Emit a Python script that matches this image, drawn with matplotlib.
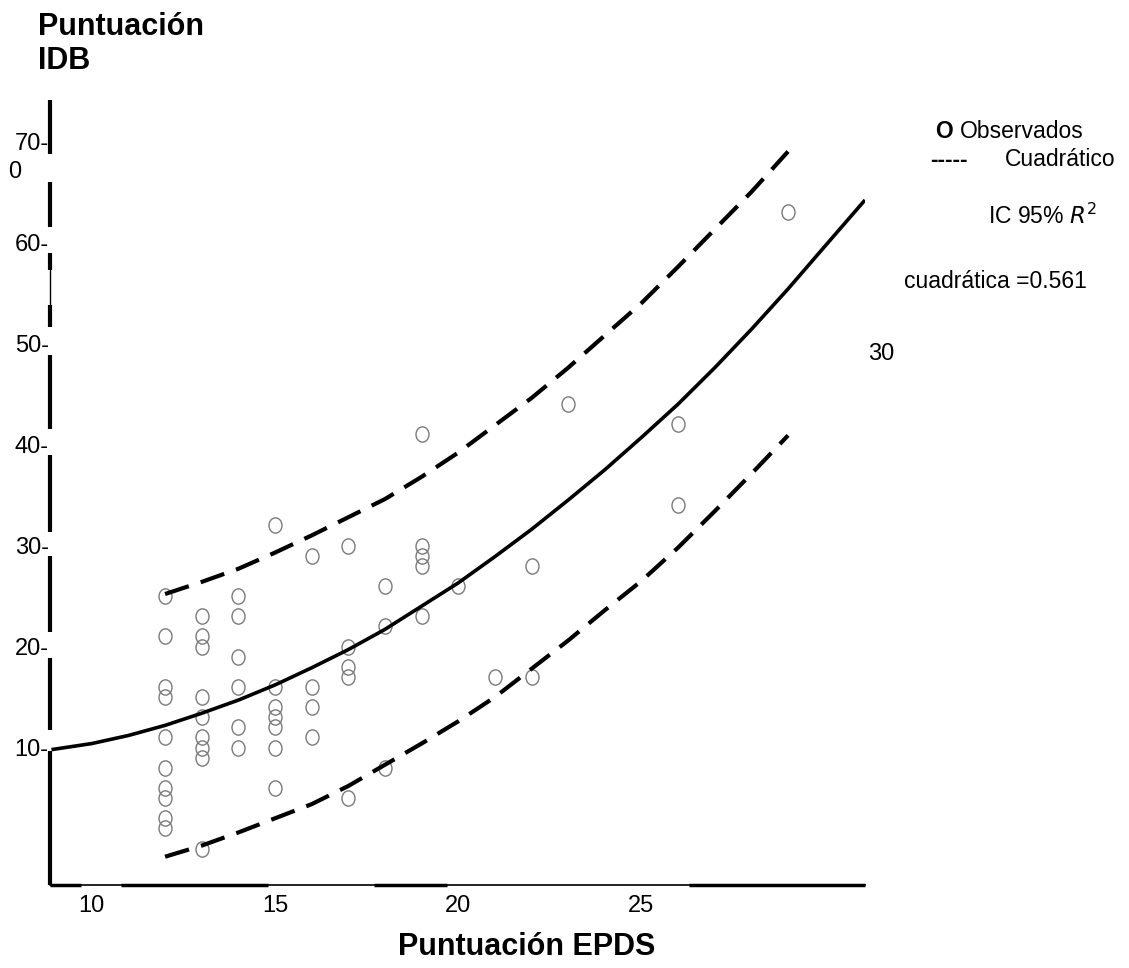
import matplotlib.pyplot as plt
from matplotlib.path import Path
from matplotlib.transforms import Affine2D

plt.rcParams["font.family"] = ["Liberation Sans", "DejaVu Sans"]

# observed points (EPDS score, IDB score)
obs_epds = [12, 12, 12, 12, 12, 12, 12, 12, 12, 12,
            13, 13, 13, 13, 13, 13, 13, 13, 13,
            14, 14, 14, 14, 14, 14,
            15, 15, 15, 15, 15, 15, 15,
            16, 16, 16, 16,
            17, 17, 17, 17, 17,
            18, 18, 18,
            19, 19, 19, 19, 19,
            20, 21, 22, 22, 23, 26, 26, 29]
obs_idb = [25, 21, 16, 15, 11, 8, 6, 5, 3, 2,
           23, 21, 20, 15, 13, 11, 10, 9, 0,
           25, 23, 19, 16, 12, 10,
           32, 16, 14, 13, 12, 10, 6,
           29, 16, 14, 11,
           30, 20, 18, 17, 5,
           26, 22, 8,
           41, 30, 29, 28, 23,
           26, 17, 28, 17, 44, 42, 34, 63]

# quadratic fit
fit_x = [8.9, 10, 11, 12, 13, 14, 15, 16, 17, 18, 19, 20, 21, 22, 23, 24,
         25, 26, 27, 28, 29, 30, 31.1]
fit_y = [9.8, 10.4, 11.2, 12.2, 13.4, 14.7, 16.2, 17.9, 19.7, 21.7, 24.0,
         26.3, 28.9, 31.6, 34.5, 37.5, 40.7, 44.0, 47.6, 51.4, 55.4, 59.6, 64.2]

# 95% confidence band
band_x = [12, 13, 14, 15, 16, 17, 18, 19, 20, 21, 22, 23, 24, 25, 26, 27, 28, 29]
upper_y = [25.2, 26.4, 27.7, 29.3, 31.0, 32.8, 34.6, 36.8, 39.2, 41.9, 44.6,
           47.6, 50.8, 54.0, 57.6, 61.3, 65.0, 69.0]
lower_y = [-0.8, 0.3, 1.6, 3.0, 4.4, 6.2, 8.3, 10.4, 12.6, 15.0, 17.8, 20.6,
           23.6, 26.5, 29.8, 33.4, 37.1, 40.9]

x_ticks = [10, 15, 20, 25]
y_ticks = [10, 20, 30, 40, 50, 60, 70]
y_labels = ["10-", "20-", "30-", "40-", "50-", "60-", "70-"]

fig = plt.figure(figsize=(11.29, 9.68), dpi=100)
ax = fig.add_axes([50 / 1129, 83 / 968, 815 / 1129, 785 / 968])
ax.set_xlim(8.86, 31.1)
ax.set_ylim(-3.6, 74.1)

# slightly tall open circles, like the scanned figure
ell = Path.unit_circle().transformed(Affine2D().scale(0.85, 1.0))
ax.plot(obs_epds, obs_idb, linestyle="none", marker=ell, markersize=11,
        markerfacecolor="none", markeredgecolor="#7a7a7a", markeredgewidth=1.0)

ax.plot(fit_x, fit_y, color="black", lw=2.6, solid_capstyle="butt")
ax.plot(band_x, upper_y, color="black", lw=3, dashes=(6, 3))
ax.plot(band_x, lower_y, color="black", lw=3, dashes=(6, 3))

for s in ax.spines.values():
    s.set_visible(False)

# broken y axis line
ytr = ax.get_yaxis_transform()
thick_segs = [(-3.6, 9.7), (11.7, 18.9), (21.4, 29.0), (31.3, 39.0),
              (41.5, 48.9), (51.6, 53.8), (57.3, 59.0), (61.5, 66.0), (68.8, 74.1)]
for lo, hi in thick_segs:
    ax.plot([0, 0], [lo, hi], color="black", lw=3, transform=ytr,
            clip_on=False, solid_capstyle="butt")
ax.plot([0, 0], [53.8, 57.3], color="black", lw=1, transform=ytr,
        clip_on=False)

# bottom axis line
xtr = ax.get_xaxis_transform()
ax.plot([8.86, 31.1], [0, 0], color="black", lw=1.2, transform=xtr,
        clip_on=False)
for lo, hi in [(8.86, 9.7), (10.8, 14.8), (17.7, 19.7), (26.3, 31.1)]:
    ax.plot([lo, hi], [0, 0], color="black", lw=2.5, transform=xtr,
            clip_on=False, solid_capstyle="butt")

ax.set_xticks(x_ticks)
ax.set_xticklabels([str(t) for t in x_ticks], fontsize=17)
ax.set_yticks(y_ticks)
ax.set_yticklabels(y_labels, fontsize=17)
ax.tick_params(axis="both", length=0)
ax.tick_params(axis="x", pad=7)
ax.tick_params(axis="y", pad=1)

fig.text(8 / 1129, 1 - 172 / 968, "0", fontsize=17, va="center", ha="left")
fig.text(868 / 1129, 1 - 354 / 968, "30", fontsize=17, va="center", ha="left")

fig.text(38 / 1129, 1 - 44 / 968, "Puntuación\nIDB", fontsize=22,
         fontweight="bold", va="center", ha="left", linespacing=1.2)
fig.text(527 / 1129, 1 - 947 / 968, "Puntuación EPDS", fontsize=22,
         fontweight="bold", va="center", ha="center")

# legend-like notes on the right
fs = 16.5
fig.text(935 / 1129, 1 - 132 / 968, "O", fontsize=fs, fontweight="bold",
         va="center", ha="left")
fig.text(960 / 1129, 1 - 132 / 968, "Observados", fontsize=fs,
         va="center", ha="left")
fig.text(930 / 1129, 1 - 160 / 968, "-----", fontsize=fs, fontweight="bold",
         va="center", ha="left")
fig.text(1005 / 1129, 1 - 160 / 968, "Cuadrático", fontsize=fs,
         va="center", ha="left")
fig.text(988 / 1129, 1 - 216 / 968, r"IC 95% $\mathit{R}^{2}$", fontsize=fs,
         va="center", ha="left")
fig.text(904 / 1129, 1 - 282 / 968, "cuadrática =0.561", fontsize=fs,
         va="center", ha="left")

fig.savefig("out.png", dpi=100)
